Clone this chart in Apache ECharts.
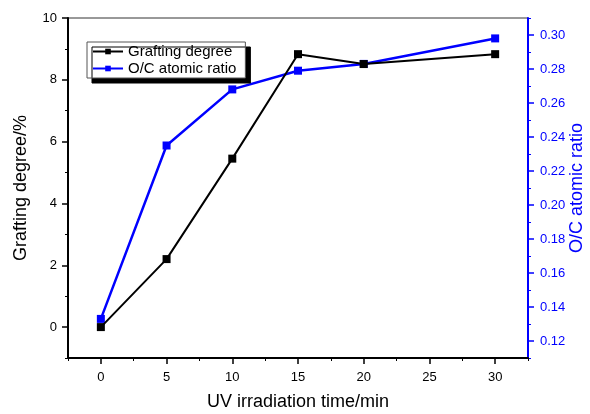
<!DOCTYPE html>
<html>
<head>
<meta charset="utf-8">
<script src="https://cdn.jsdelivr.net/npm/echarts@6/dist/echarts.min.js"></script>
<style>
  html, body { margin: 0; padding: 0; background: #fff; }
  #chart { width: 590px; height: 414px; }
</style>
</head>
<body>
<div id="chart"></div>
<script>
// data
const times = [0, 5, 10, 15, 20, 30];
const grafting = [0, 2.2, 5.45, 8.83, 8.51, 8.83];
const ocRatio = [0.133, 0.235, 0.268, 0.279, 0.283, 0.298];

const xMajor = [0, 5, 10, 15, 20, 25, 30];
const xMinor = [-2.5, 2.5, 7.5, 12.5, 17.5, 22.5, 27.5, 32.5];
const leftMajor = [0, 2, 4, 6, 8, 10];
const leftMinor = [-1, 1, 3, 5, 7, 9];
const rightMajor = [0.12, 0.14, 0.16, 0.18, 0.20, 0.22, 0.24, 0.26, 0.28, 0.30];
const rightMinor = [0.11, 0.13, 0.15, 0.17, 0.19, 0.21, 0.23, 0.25, 0.27, 0.29, 0.31];

const BLUE = '#0000ff';
const FONT = 'Liberation Sans, Arial, sans-serif';

const chart = echarts.init(document.getElementById('chart'));

// overlay axis that only draws the short minor ticks
function minorAxis(base, vals, color) {
    return Object.assign({}, base, {
        name: '',
        axisLine: { show: false, onZero: false },
        axisLabel: { show: false },
        splitLine: { show: false },
        axisTick: { show: true, customValues: vals, length: 3, inside: false,
            lineStyle: { color: color, width: 1 } }
    });
}

const xBase = { type: 'value', position: 'bottom', min: -2.5, max: 32.5 };
const yLeftBase = { type: 'value', position: 'left', min: -1, max: 10 };
const yRightBase = { type: 'value', position: 'right', min: 0.11, max: 0.31 };

chart.setOption({
    animation: false,
    backgroundColor: '#fff',
    textStyle: { fontFamily: FONT },
    grid: {
        left: 68, right: 62, top: 18, bottom: 56,
        outerBoundsMode: 'none',
        containLabel: false,
        show: true, borderColor: '#333', borderWidth: 1, backgroundColor: 'transparent'
    },
    legend: {
        left: 87, top: 42,
        orient: 'vertical',
        itemWidth: 30, itemHeight: 7, itemGap: 2,
        padding: [2, 9, 2, 5],
        backgroundColor: '#fff',
        borderColor: '#555', borderWidth: 1,
        borderRadius: 0,
        shadowColor: '#000', shadowBlur: 0, shadowOffsetX: 5, shadowOffsetY: 5,
        textStyle: { fontSize: 15, color: '#000', fontFamily: FONT },
        data: ['Grafting degree', 'O/C atomic ratio']
    },
    xAxis: [
        Object.assign({}, xBase, {
            name: 'UV irradiation time/min',
            nameLocation: 'middle', nameGap: 35, nameMoveOverlap: false,
            nameTextStyle: { fontSize: 18, color: '#000' },
            axisLine: { show: true, onZero: false, lineStyle: { color: '#000', width: 2 } },
            axisTick: { show: true, customValues: xMajor, length: 6, lineStyle: { color: '#000', width: 1.5 } },
            axisLabel: { customValues: xMajor, fontSize: 13, color: '#000', margin: 13 },
            splitLine: { show: false }
        }),
        minorAxis(xBase, xMinor, '#000')
    ],
    yAxis: [
        Object.assign({}, yLeftBase, {
            name: 'Grafting degree/%',
            nameLocation: 'middle', nameGap: 38, nameMoveOverlap: false,
            nameTextStyle: { fontSize: 18, color: '#000' },
            axisLine: { show: true, onZero: false, lineStyle: { color: '#000', width: 2 } },
            axisTick: { show: true, customValues: leftMajor, length: 6, lineStyle: { color: '#000', width: 1.5 } },
            axisLabel: { customValues: leftMajor, fontSize: 13, color: '#000', margin: 11 },
            splitLine: { show: false }
        }),
        Object.assign({}, yRightBase, {
            name: 'O/C atomic ratio',
            nameLocation: 'middle', nameGap: 40, nameMoveOverlap: false,
            nameTextStyle: { fontSize: 18, color: BLUE },
            axisLine: { show: true, onZero: false, lineStyle: { color: BLUE, width: 2 } },
            axisTick: { show: true, customValues: rightMajor, length: 6, lineStyle: { color: BLUE, width: 1.5 } },
            axisLabel: { customValues: rightMajor, fontSize: 13, color: BLUE, margin: 12,
                formatter: v => v.toFixed(2) },
            splitLine: { show: false }
        }),
        minorAxis(yLeftBase, leftMinor, '#000'),
        minorAxis(yRightBase, rightMinor, BLUE)
    ],
    series: [
        {
            name: 'Grafting degree',
            type: 'line',
            xAxisIndex: 0, yAxisIndex: 0,
            data: times.map((t, i) => [t, grafting[i]]),
            symbol: 'rect', symbolSize: 8,
            itemStyle: { color: '#000' },
            lineStyle: { color: '#000', width: 2 },
            z: 3
        },
        {
            name: 'O/C atomic ratio',
            type: 'line',
            xAxisIndex: 0, yAxisIndex: 1,
            data: times.map((t, i) => [t, ocRatio[i]]),
            symbol: 'rect', symbolSize: 8,
            itemStyle: { color: BLUE },
            lineStyle: { color: BLUE, width: 2.5 },
            z: 2
        }
    ]
});
</script>
</body>
</html>
